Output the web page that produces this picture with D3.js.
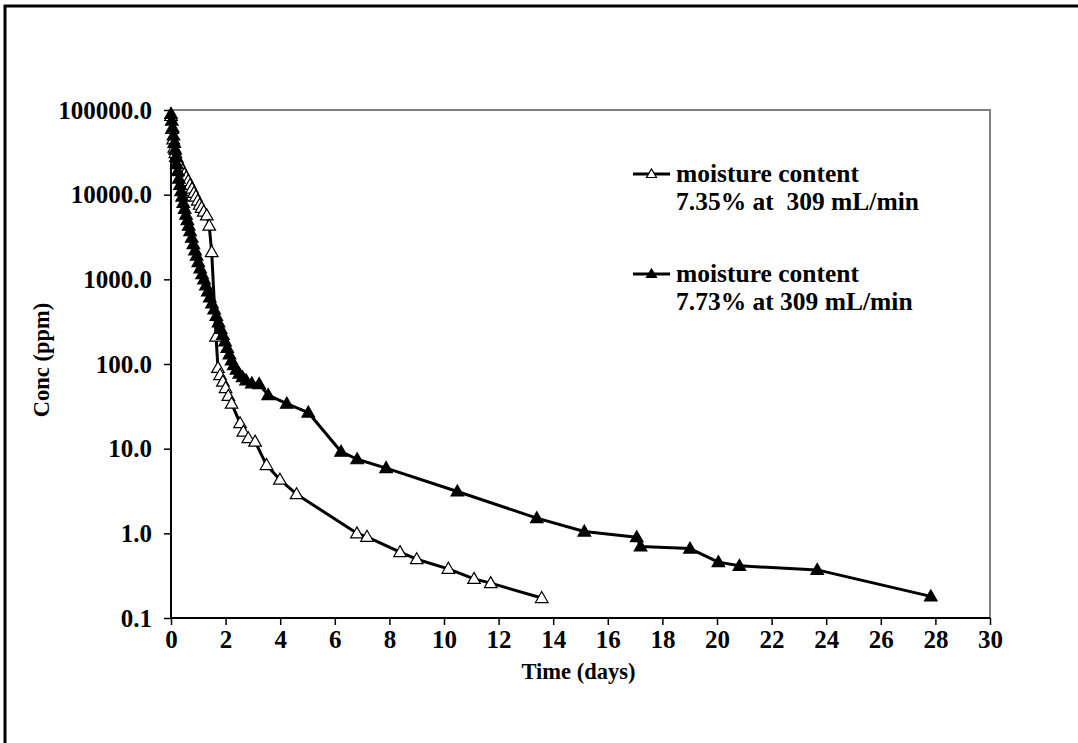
<!DOCTYPE html>
<html>
<head>
<meta charset="utf-8">
<script src="https://cdn.jsdelivr.net/npm/d3@7"></script>
<style>
  html, body { margin: 0; padding: 0; background: #fff; }
  svg { display: block; }
  text { font-family: "Liberation Serif", "Times New Roman", serif; font-weight: bold; fill: #000; }
</style>
</head>
<body>
<script>
// ---- Data ----
const openDays = [0.00, 0.04, 0.08, 0.12, 0.16, 0.22, 0.28, 0.35, 0.42, 0.49, 0.56, 0.63, 0.70, 0.77, 0.84, 0.91, 0.98, 1.05, 1.12, 1.20, 1.31, 1.40, 1.49, 1.65, 1.72, 1.80, 1.90, 2.00, 2.10, 2.22, 2.53, 2.65, 2.83, 3.08, 3.50, 3.99, 4.60, 6.81, 7.18, 8.39, 9.00, 10.16, 11.10, 11.71, 13.58];
const openConc = [85000, 60000, 45000, 36000, 31000, 27000, 24000, 21500, 19500, 17500, 16000, 14500, 13000, 11800, 10500, 9500, 8500, 7600, 7000, 6300, 5700, 4300, 2100, 210, 90, 74, 62, 52, 42, 34, 20, 15.9, 13.3, 12.1, 6.4, 4.3, 2.9, 1.0, 0.91, 0.60, 0.495, 0.381, 0.29, 0.258, 0.172];

const filledDays = [0.00, 0.03, 0.06, 0.09, 0.12, 0.15, 0.18, 0.21, 0.25, 0.29, 0.33, 0.37, 0.41, 0.45, 0.50, 0.55, 0.60, 0.65, 0.70, 0.76, 0.82, 0.88, 0.94, 1.00, 1.07, 1.14, 1.21, 1.28, 1.35, 1.42, 1.50, 1.58, 1.66, 1.74, 1.82, 1.90, 1.98, 2.06, 2.14, 2.22, 2.30, 2.40, 2.50, 2.62, 2.75, 2.96, 3.23, 3.56, 4.24, 5.03, 6.23, 6.82, 7.88, 10.49, 13.40, 15.14, 17.06, 17.20, 19.01, 20.05, 20.82, 23.67, 27.83];
const filledConc = [90000, 75000, 62000, 50000, 41000, 34000, 28000, 23000, 19000, 15500, 13000, 11000, 9500, 8000, 6800, 5800, 5000, 4300, 3700, 3100, 2600, 2200, 1900, 1600, 1350, 1150, 1000, 850, 720, 610, 520, 440, 370, 310, 260, 220, 185, 155, 130, 110, 97, 86, 77, 70, 64, 59, 58, 43, 34, 26.7, 9.2, 7.5, 5.9, 3.12, 1.51, 1.05, 0.90, 0.70, 0.66, 0.457, 0.413, 0.37, 0.18];

const xTicks = [0, 2, 4, 6, 8, 10, 12, 14, 16, 18, 20, 22, 24, 26, 28, 30];
const yTicks = [0.1, 1, 10, 100, 1000, 10000, 100000];
const legendLabels = [
  ["moisture content", "7.35% at\u00a0 309 mL/min"],
  ["moisture content", "7.73% at 309 mL/min"]
];
const xTitle = "Time (days)";
const yTitle = "Conc (ppm)";

// ---- Layout ----
const W = 1078, H = 743;
const plot = { left: 171, right: 990, top: 110, bottom: 618 };
const tickFont = 25;
const legendFont = 25.5;
const titleFont = 22.5;

const svg = d3.select("body").append("svg").attr("width", W).attr("height", H);

// outer border
svg.append("rect").attr("x", 5).attr("y", 6).attr("width", W + 10).attr("height", H + 10)
  .attr("fill", "none").attr("stroke", "#000").attr("stroke-width", 3);

const x = d3.scaleLinear().domain([0, 30]).range([plot.left, plot.right]);
const y = d3.scaleLog().domain([0.1, 100000]).range([plot.bottom, plot.top]);

// plot frame (top & right grey)
svg.append("path")
  .attr("d", `M${plot.left},${plot.top}H${plot.right}V${plot.bottom}`)
  .attr("fill", "none").attr("stroke", "#808080").attr("stroke-width", 2);

// axes
const xAxis = d3.axisBottom(x).tickValues(xTicks).tickSize(7).tickPadding(6).tickFormat(d3.format("d"));
const gx = svg.append("g").attr("transform", `translate(0,${plot.bottom})`).call(xAxis);
const yAxis = d3.axisLeft(y).tickValues(yTicks).tickSize(7).tickPadding(12).tickFormat(d3.format(".1f"));
const gy = svg.append("g").attr("transform", `translate(${plot.left},0)`).call(yAxis);
[gx, gy].forEach(g => {
  g.select(".domain").attr("stroke", "#000").attr("stroke-width", 2);
  g.selectAll(".tick line").attr("stroke", "#000").attr("stroke-width", 1.5);
  g.selectAll(".tick text").attr("font-size", tickFont).attr("font-family", "Liberation Serif, serif").attr("font-weight", "bold").attr("fill", "#000");
});
gx.select(".domain").attr("d", `M${plot.left},0H${plot.right}`);
gy.select(".domain").attr("d", `M0,${plot.bottom}V${plot.top}`);
gx.selectAll(".tick text").attr("dy", "0.68em");

// titles
svg.append("text").attr("x", (plot.left + plot.right) / 2 - 2).attr("y", 679)
  .attr("text-anchor", "middle").attr("font-size", titleFont).text(xTitle);
svg.append("text").attr("transform", `translate(49,${(plot.top + plot.bottom) / 2 - 4}) rotate(-90)`)
  .attr("text-anchor", "middle").attr("font-size", titleFont).text(yTitle);

// series
const tri = "M0,-6.5L6.3,4.5L-6.3,4.5Z";
const line = d3.line().x(d => x(d[0])).y(d => y(d[1]));
const openData = openDays.map((d, i) => [d, openConc[i]]);
const filledData = filledDays.map((d, i) => [d, filledConc[i]]);

function drawSeries(data, fill) {
  svg.append("path").datum(data).attr("d", line)
    .attr("fill", "none").attr("stroke", "#000").attr("stroke-width", 3).attr("stroke-linejoin", "round");
  svg.append("g").selectAll("path").data(data).join("path")
    .attr("transform", d => `translate(${x(d[0])},${y(d[1])})`)
    .attr("d", tri).attr("fill", fill).attr("stroke", "#000").attr("stroke-width", 1.2);
}
drawSeries(openData, "#fff");
drawSeries(filledData, "#000");

// legend
const legendY = [174, 274];
const fills = ["#fff", "#000"];
legendLabels.forEach((lab, i) => {
  const g = svg.append("g");
  g.append("line").attr("x1", 633).attr("x2", 670).attr("y1", legendY[i]).attr("y2", legendY[i])
    .attr("stroke", "#000").attr("stroke-width", 3);
  g.append("path").attr("transform", `translate(651.5,${legendY[i]})`).attr("d", "M0,-5L5,3.5L-5,3.5Z")
    .attr("fill", fills[i]).attr("stroke", "#000").attr("stroke-width", 1.2);
  lab.forEach((t, j) => {
    g.append("text").attr("x", 676).attr("y", legendY[i] + 8 + j * 28)
      .attr("font-size", legendFont).text(t);
  });
});
</script>
</body>
</html>
